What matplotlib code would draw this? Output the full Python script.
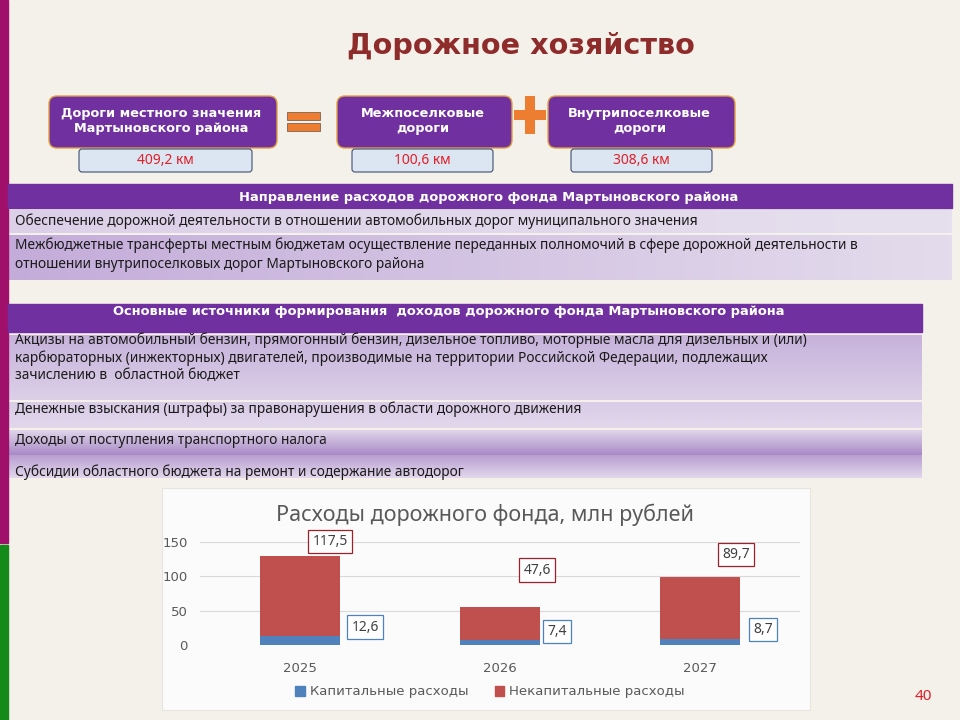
import numpy as np
import matplotlib
matplotlib.use("Agg")
import matplotlib.pyplot as plt
from matplotlib.patches import Rectangle, FancyBboxPatch
from matplotlib.colors import LinearSegmentedColormap

# data
years = ["2025", "2026", "2027"]
capital = [12.6, 7.4, 8.7]
noncapital = [117.5, 47.6, 89.7]
series_names = ["Капитальные расходы", "Некапитальные расходы"]

road_titles = ["Дороги местного значения\nМартыновского района",
               "Межпоселковые\nдороги",
               "Внутрипоселковые\nдороги"]
road_lengths = ["409,2 км", "100,6 км", "308,6 км"]

spend_header = "Направление расходов дорожного фонда Мартыновского района"
spend_rows = ["Обеспечение дорожной деятельности в отношении автомобильных дорог муниципального значения",
              "Межбюджетные трансферты местным бюджетам осуществление переданных полномочий в сфере дорожной деятельности в\n"
              "отношении внутрипоселковых дорог Мартыновского района"]

income_header = "Основные источники формирования  доходов дорожного фонда Мартыновского района"
income_rows = ["Акцизы на автомобильный бензин, прямогонный бензин, дизельное топливо, моторные масла для дизельных и (или)\n"
               "карбюраторных (инжекторных) двигателей, производимые на территории Российской Федерации, подлежащих\n"
               "зачислению в  областной бюджет",
               "Денежные взыскания (штрафы) за правонарушения в области дорожного движения",
               "Доходы от поступления транспортного налога",
               "Субсидии областного бюджета на ремонт и содержание автодорог"]

PURPLE = "#7030A0"
BG = "#F4F0EA"
MAIN = ["Noto Sans", "DejaVu Sans"]
BOLD = "DejaVu Sans"

fig = plt.figure(figsize=(9.6, 7.2), dpi=100, facecolor=BG)
ax = fig.add_axes([0, 0, 1, 1])
ax.set_xlim(0, 960)
ax.set_ylim(720, 0)
ax.axis("off")


def hgrad(x0, x1, y0, y1, c0, c1, vertical=False):
    cmap = LinearSegmentedColormap.from_list("g", [c0, c1])
    g = np.linspace(0, 1, 256)
    g = g.reshape(-1, 1) if vertical else g.reshape(1, -1)
    ax.imshow(g, cmap=cmap, extent=(x0, x1, y1, y0), aspect="auto", zorder=1)


# left side stripe
ax.add_patch(Rectangle((0, 0), 8, 543, color="#A0106A", zorder=2))
ax.add_patch(Rectangle((0, 545), 8, 175, color="#138A1A", zorder=2))

# title
ax.text(521, 46, "Дорожное хозяйство", ha="center", va="center", fontsize=20.6,
        fontweight="bold", color="#8E2B2B", family=BOLD)

# road boxes
box_x = [(49, 277), (337, 512), (548, 735)]
val_x = [(79, 252), (352, 493), (571, 712)]
for (x0, x1), (v0, v1), t, v in zip(box_x, val_x, road_titles, road_lengths):
    ax.add_patch(FancyBboxPatch((x0, 96), x1 - x0, 52, boxstyle="round,pad=0,rounding_size=8",
                                fc=PURPLE, ec="#E0A040", lw=1, zorder=3))
    ax.text((x0 + x1) / 2 - 2, 121, t, ha="center", va="center", color="white", fontsize=9.3,
            fontweight="bold", family=BOLD, linespacing=1.15, zorder=4)
    ax.add_patch(FancyBboxPatch((v0, 149), v1 - v0, 23, boxstyle="round,pad=0,rounding_size=3",
                                fc="#DCE6F2", ec="#3F4F6F", lw=0.8, zorder=3))
    ax.text((v0 + v1) / 2, 160.5, v, ha="center", va="center", color="#E0202A", fontsize=10,
            family=MAIN, zorder=4)

# equal and plus signs
ax.add_patch(Rectangle((287, 112), 33, 8, fc="#ED7D31", ec="#7F6050", lw=0.6, zorder=3))
ax.add_patch(Rectangle((287, 123), 33, 8, fc="#ED7D31", ec="#7F6050", lw=0.6, zorder=3))
ax.add_patch(Rectangle((525, 96), 10, 38, fc="#ED7D31", ec="none", zorder=3))
ax.add_patch(Rectangle((514, 110), 32, 10, fc="#ED7D31", ec="none", zorder=3))

# spending table
ax.add_patch(Rectangle((8, 184), 944, 24, color=PURPLE, zorder=2))
ax.text(489, 197, spend_header, ha="center", va="center", color="white", fontsize=9.4,
        fontweight="bold", family=BOLD, zorder=4)
hgrad(8, 952, 210, 233, "#DCD0E8", "#E6E0EE")
hgrad(8, 952, 235, 280, "#C4ACDA", "#E4DCEC")
ax.text(15, 221.5, spend_rows[0], ha="left", va="center", fontsize=9.9, color="#1A1A1A",
        family=MAIN, zorder=4)
ax.text(15, 255, spend_rows[1], ha="left", va="center", fontsize=9.9, color="#1A1A1A",
        family=MAIN, linespacing=1.35, zorder=4)

# income table
ax.add_patch(Rectangle((8, 304), 914, 28, color=PURPLE, zorder=2))
ax.text(449, 312, income_header, ha="center", va="center", color="white", fontsize=9.4,
        family=BOLD, fontweight="bold", zorder=4)
hgrad(8, 922, 335, 400, "#C7B2DB", "#DCD0E8", vertical=True)
hgrad(8, 922, 402, 428, "#D8CCE6", "#E2D8EC", vertical=True)
hgrad(8, 922, 430, 455, "#E0D6EA", "#A889C6", vertical=True)
hgrad(8, 922, 455, 478, "#B89ED0", "#E2D8EC", vertical=True)
ax.text(15, 358, income_rows[0], ha="left", va="center", fontsize=9.9, color="#1A1A1A",
        family=MAIN, linespacing=1.2, zorder=4)
ax.text(15, 409, income_rows[1], ha="left", va="center", fontsize=9.9, color="#1A1A1A",
        family=MAIN, zorder=4)
ax.text(15, 441, income_rows[2], ha="left", va="center", fontsize=9.9, color="#1A1A1A",
        family=MAIN, zorder=4)
ax.text(15, 472, income_rows[3], ha="left", va="center", fontsize=9.9, color="#1A1A1A",
        family=MAIN, zorder=4)

# chart panel
ax.add_patch(Rectangle((162, 488), 648, 222, fc="#FBFBFB", ec="#E8E4DE", lw=0.8, zorder=2))
ax.text(485, 515, "Расходы дорожного фонда, млн рублей", ha="center", va="center",
        fontsize=15.5, color="#595959", family=MAIN, zorder=4)

# page number
ax.text(923, 697, "40", ha="center", va="center", fontsize=11, color="#E0202A", family=MAIN)

# bar chart
cax = fig.add_axes([200 / 960, 75 / 720, 600 / 960, 103 / 720])
cax.set_facecolor("none")
x = np.arange(len(years))
cax.bar(x, capital, width=0.4, color="#4F81BD", zorder=3)
cax.bar(x, noncapital, width=0.4, bottom=capital, color="#C0504D", zorder=3)
cax.set_xlim(-0.5, 2.5)
cax.set_ylim(0, 150)
cax.set_yticks([0, 50, 100, 150])
cax.grid(axis="y", color="#D9D9D9", lw=0.8, zorder=0)
cax.set_xticks(x)
cax.set_xticklabels(years)
cax.tick_params(length=0, labelsize=9.5, labelcolor="#595959", pad=9)
cax.tick_params(axis="x", pad=12)
for s in cax.spines.values():
    s.set_visible(False)

# data labels (placed manually as in the original)
red_off = [(0.15, 151), (0.185, 109), (0.18, 132)]
blue_off = [(0.325, 26), (0.285, 20), (0.315, 23)]
for i in range(len(years)):
    dx, yy = red_off[i]
    cax.text(i + dx, yy, f"{noncapital[i]:.1f}".replace(".", ","), ha="center", va="center",
             fontsize=10, color="#404040", family=MAIN, clip_on=False,
             bbox=dict(boxstyle="square,pad=0.3", fc="white", ec="#A0202A", lw=0.9))
    dx, yy = blue_off[i]
    cax.text(i + dx, yy, f"{capital[i]:.1f}".replace(".", ","), ha="center", va="center",
             fontsize=10, color="#404040", family=MAIN, clip_on=False,
             bbox=dict(boxstyle="square,pad=0.3", fc="white", ec="#4F81BD", lw=0.9))

handles = [Rectangle((0, 0), 1, 1, color="#4F81BD"), Rectangle((0, 0), 1, 1, color="#C0504D")]
fig.legend(handles, series_names, loc="center", bbox_to_anchor=(490 / 960, 1 - 692 / 720),
           ncol=2, frameon=False, fontsize=9.5, labelcolor="#595959", handlelength=0.7,
           handleheight=0.7, columnspacing=2.0, handletextpad=0.4)

fig.savefig("out.png", dpi=100, facecolor=BG)
